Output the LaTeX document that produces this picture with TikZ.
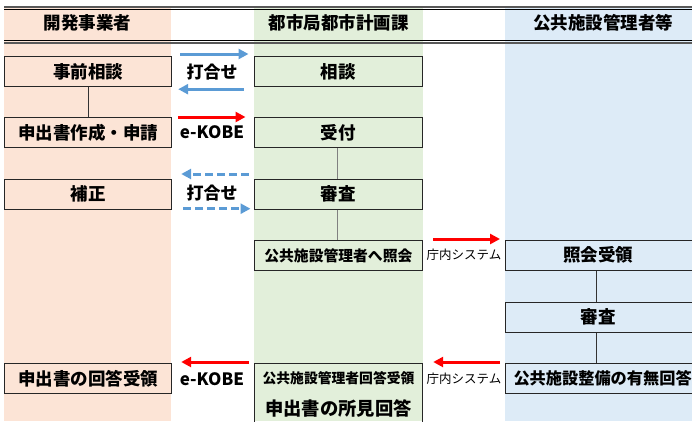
\documentclass[tikz,border=0pt]{standalone}
\usepackage{fontspec}
\setmainfont{Noto Sans CJK JP}
\usetikzlibrary{arrows.meta,positioning}
\definecolor{pinkbg}{HTML}{FCE4D6}
\definecolor{greenbg}{HTML}{E2EFDA}
\definecolor{bluebg}{HTML}{DDEBF7}
\definecolor{arrblue}{HTML}{5B9BD5}
\definecolor{arrred}{HTML}{FF0000}
\definecolor{hdrgray}{HTML}{595959}
\tikzset{
  bx/.style={draw=black!85,line width=1.2pt,minimum height=30pt,inner sep=0pt,anchor=north west,font=\fontsize{17.5}{19}\selectfont\bfseries},
  hdr/.style={font=\fontsize{17.5}{19}\selectfont\bfseries},
  lbl/.style={font=\fontsize{17}{19}\selectfont\bfseries},
  sml/.style={font=\fontsize{12.5}{14}\selectfont},
  barr/.style={arrblue,line width=3pt,-{Triangle[length=10pt,width=10pt]}},
  rarr/.style={arrred,line width=3pt,-{Triangle[length=10pt,width=10pt]}},
  darr/.style={barr,dash pattern=on 8pt off 4pt},
  conn/.style={line width=1.2pt,draw=black!80},
  gconn/.style={line width=1.2pt,draw=black!50}
}
\begin{document}
\begin{tikzpicture}[x=1pt,y=-1pt]
\useasboundingbox (0,0) rectangle (692,421);
\clip (0,0) rectangle (692,421);
% column backgrounds
\fill[pinkbg] (4,8) rectangle (171,421);
\fill[greenbg] (253.5,8) rectangle (423,421);
\fill[bluebg] (505,8) rectangle (692,421);
% header lines
\draw[hdrgray,line width=1.5pt] (4,7.2) -- (692,7.2);
\draw[black,line width=0.9pt] (4,9.5) -- (692,9.5);
\draw[black,line width=0.9pt] (4,40.5) -- (692,40.5);
\draw[hdrgray,line width=1.5pt] (4,42.8) -- (692,42.8);
% headers
\node[hdr] (h1) at (87.5,23) {開発事業者};
\node[hdr] (h2) at (338.5,23) {都市局都市計画課};
\node[hdr] (h3) at (603,23) {公共施設管理者等};
% left boxes
\node[bx,minimum width=167pt] (jizen) at (4,56) {事前相談};
\node[bx,minimum width=167pt] (shinsei) at (4,117) {申出書作成・申請};
\node[bx,minimum width=167pt] (hosei) at (4,178.5) {補正};
\node[bx,minimum width=167pt] (juryo) at (4,363) {申出書の回答受領};
% middle boxes
\node[bx,minimum width=168.5pt] (soudan) at (253.5,56) {相談};
\node[bx,minimum width=168.5pt] (uketsuke) at (253.5,117) {受付};
\node[bx,minimum width=168.5pt] (shinsa) at (253.5,178.5) {審査};
\node[bx,minimum width=168.5pt,font=\fontsize{14.8}{16}\selectfont\bfseries] (shokai) at (253.5,240) {公共施設管理者へ照会};
\node[bx,minimum width=168.5pt,minimum height=80pt] (kaito) at (253.5,363) {};
\node[font=\fontsize{13.8}{15}\selectfont\bfseries] (kaitoA) at (338.5,378) {公共施設管理者回答受領};
\node[font=\fontsize{18.3}{20}\selectfont\bfseries] (kaitoB) at (338.5,408) {申出書の所見回答};
% right boxes
\node[bx,minimum width=200pt] (shokaiju) at (505,240) {};
\node[font=\fontsize{17.5}{19}\selectfont\bfseries] (shokaijuT) at (598,255) {照会受領};
\node[bx,minimum width=200pt] (shinsa2) at (505,302) {};
\node[font=\fontsize{17.5}{19}\selectfont\bfseries] (shinsa2T) at (598,317) {審査};
\node[bx,minimum width=200pt] (umu) at (505,363) {};
\node[font=\fontsize{16.2}{18}\selectfont\bfseries,anchor=west] (umuT) at (510,378) {公共施設整備の有無回答};
% vertical connectors
\draw[conn] (jizen.south) -- (shinsei.north);
\draw[gconn] ([xshift=-1pt]uketsuke.south) -- ([xshift=-1pt]shinsa.north);
\draw[gconn] ([xshift=-1pt]shinsa.south) -- ([xshift=-1pt]shokai.north);
\draw[conn] ([xshift=-9pt]shokaiju.south) -- ([xshift=-9pt]shinsa2.north);
\draw[conn] ([xshift=-9pt]shinsa2.south) -- ([xshift=-9pt]umu.north);
% horizontal arrows
\draw[barr] ([xshift=8pt,yshift=2pt]jizen.north east) -- ([xshift=-5pt,yshift=2pt]soudan.north west);
\draw[barr] ([xshift=-10pt,yshift=-2pt]soudan.south west) -- ([xshift=6pt,yshift=-2pt]jizen.south east);
\node[lbl] (uchi1) at (212,72) {打合せ};
\draw[rarr] ([xshift=6pt]shinsei.north east) -- ([xshift=-8pt]uketsuke.north west);
\node[lbl] (ek1) at (212,132) {e-KOBE};
\draw[darr] ([xshift=-5pt,yshift=4.5pt]shinsa.north west) -- ([xshift=9pt,yshift=4.5pt]hosei.north east);
\draw[darr] ([xshift=11pt,yshift=1pt]hosei.south east) -- ([xshift=-3pt,yshift=1pt]shinsa.south west);
\node[lbl] (uchi2) at (212,193) {打合せ};
\draw[rarr] ([xshift=10pt,yshift=1pt]shokai.north east) -- ([xshift=-5pt,yshift=1pt]shokaiju.north west);
\node[sml] (chonai1) at (464,255) {庁内システム};
\draw[rarr] ([xshift=-5pt,yshift=1pt]umu.north west) -- ([xshift=10pt,yshift=1pt]kaito.north east);
\node[sml] (chonai2) at (464,379) {庁内システム};
\draw[rarr] ([xshift=-5pt,yshift=1pt]kaito.north west) -- ([xshift=9pt,yshift=1pt]juryo.north east);
\node[lbl] (ek2) at (212,379) {e-KOBE};
\end{tikzpicture}
\end{document}
